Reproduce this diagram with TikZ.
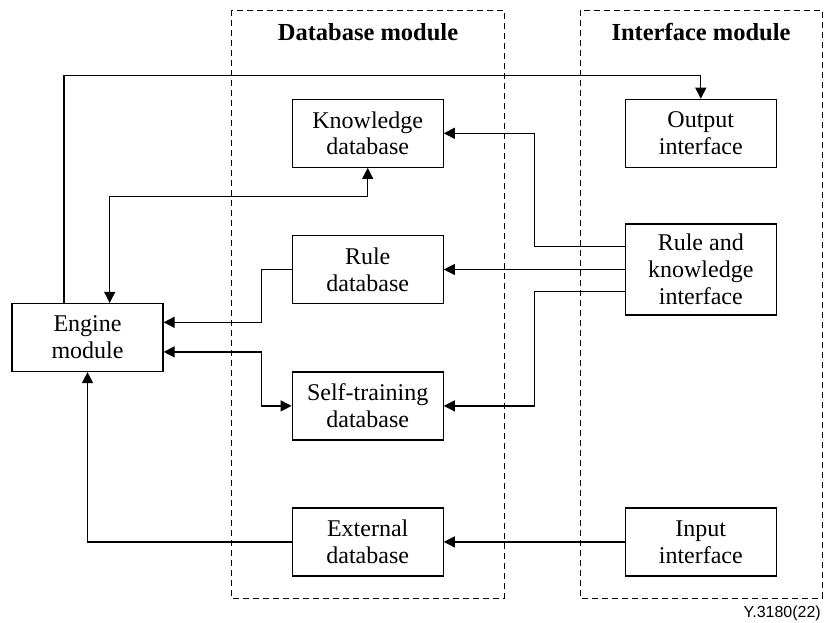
\documentclass[tikz,border=0pt]{standalone}
\usepackage{fontspec}
\setmainfont{Liberation Serif}
\newfontfamily\tagfont{Liberation Sans}
\usetikzlibrary{arrows.meta,calc}
\begin{document}
\begin{tikzpicture}[x=1pt,y=-1pt,
  blk/.style={draw,line width=1.2pt,minimum width=151pt,minimum height=68pt,
    inner sep=0pt,align=center,font=\fontsize{24}{26.8}\selectfont},
  link/.style={line width=1.2pt,-{Triangle[length=11pt,width=11pt]}},
  dlink/.style={line width=1.2pt,{Triangle[length=11pt,width=11pt]}-{Triangle[length=11pt,width=11pt]}},
  grp/.style={draw,line width=1pt,dash pattern=on 6pt off 4pt},
  title/.style={font=\fontsize{24.5}{27}\selectfont\bfseries}]
\useasboundingbox (0,0) rectangle (824,622);

% module frames
\draw[grp] (231,10) rectangle (504,598);
\draw[grp] (580,10) rectangle (822,598);
\node[title] (dbt) at (368,32) {Database module};
\node[title] (ift) at (701,32) {Interface module};

% blocks
\node[blk] (eng) at (87.5,337.5) {Engine\\module};
\node[blk] (kdb) at (367.7,133.3) {Knowledge\\database};
\node[blk] (rdb) at (367.7,269.5) {Rule\\database};
\node[blk] (sdb) at (367.7,405.9) {Self-training\\database};
\node[blk] (edb) at (367.7,541.9) {External\\database};
\node[blk] (out) at (700.8,133.3) {Output\\interface};
\node[blk,minimum height=91pt] (rki) at (700.8,269.5) {Rule and\\knowledge\\interface};
\node[blk] (inp) at (700.8,541.9) {Input\\interface};

% engine to output interface
\coordinate (e1) at ($(eng.north west)+(52.6,0)$);
\coordinate (o1) at ($(out.north)+(0,-23.3)$);
\draw[link] (e1) -- (e1 |- o1) -- (o1) -- (out.north);

% engine and knowledge database
\coordinate (e2) at ($(eng.north west)+(98.3,0)$);
\draw[dlink] (kdb.south) |- (200,196.7) -| (e2);

% rule database to engine
\coordinate (e3) at ($(eng.north east)+(0,19.4)$);
\draw[link] (rdb.west) -| (261.7,296) |- (e3);

% engine and self-training database
\coordinate (e4) at ($(eng.north east)+(0,49)$);
\draw[dlink] (e4) -| (261.7,380) |- (sdb.west);

% external database to engine
\draw[link] (edb.west) -| (eng.south);

% rule and knowledge interface to the databases
\coordinate (r1) at ($(rki.north west)+(0,23.3)$);
\coordinate (r3) at ($(rki.north west)+(0,67.7)$);
\draw[link] (r1) -| (534.3,200) |- (kdb.east);
\draw[link] (rki.west |- rdb.east) -- (rdb.east);
\draw[link] (r3) -| (534.3,380) |- (sdb.east);

% input interface to external database
\draw[link] (inp.west) -- (edb.east);

\node[anchor=east,font=\tagfont\fontsize{16}{18}\selectfont,inner sep=0pt] (tag) at (821,613) {Y.3180(22)};
\end{tikzpicture}
\end{document}
